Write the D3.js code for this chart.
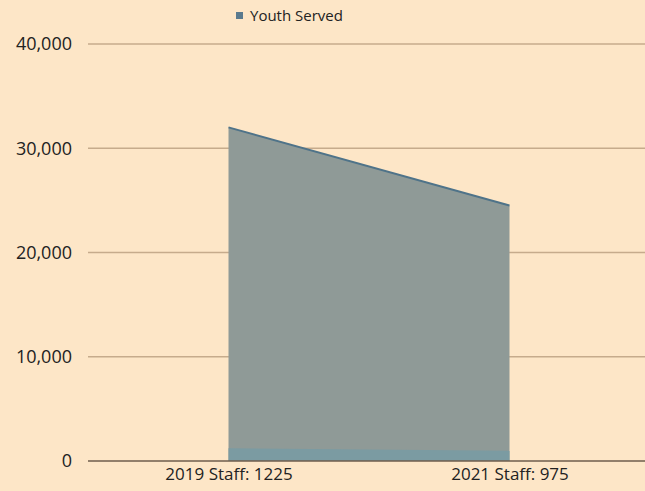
<!DOCTYPE html>
<html>
<head>
<meta charset="utf-8">
<script src="https://cdn.jsdelivr.net/npm/d3@7"></script>
<style>
  html, body { margin: 0; padding: 0; background: #fde6c7; }
  svg { display: block; font-family: "Open Sans", "Noto Sans", sans-serif; }
  .tick text { fill: #222; }
</style>
</head>
<body>
<div id="chart"></div>
<script>
(function(){
  "use strict";

  // chart data
  const categories = ["2019 Staff: 1225", "2021 Staff: 975"];
  const youthServed = [32000, 24500];
  const staffCount = [1225, 975];
  const yTicks = [0, 10000, 20000, 30000, 40000];

  const width = 645, height = 491;
  const margin = {top: 44, right: -5, bottom: 30, left: 88};
  const font = "'Open Sans', 'Noto Sans', sans-serif";

  const svg = d3.select("#chart").append("svg")
    .attr("width", width)
    .attr("height", height);

  svg.append("rect")
    .attr("width", width).attr("height", height)
    .attr("fill", "#fde6c7");

  // x spreads the two categories like a band axis
  const x = d3.scalePoint()
    .domain(categories)
    .range([margin.left, width - margin.right])
    .padding(0.5);

  const y = d3.scaleLinear()
    .domain([0, 40000])
    .range([height - margin.bottom, margin.top]);

  // labels on the left
  const yAxis = svg.append("g")
    .attr("transform", `translate(${margin.left},0)`)
    .call(d3.axisLeft(y)
      .tickValues(yTicks)
      .tickFormat(d3.format(","))
      .tickSize(0)
      .tickPadding(16))
    .attr("font-family", font)
    .attr("font-size", 18);
  yAxis.select(".domain").remove();

  // gridlines
  svg.append("g")
    .selectAll("line")
    .data(yTicks.filter(d => d > 0))
    .enter().append("line")
      .attr("x1", margin.left)
      .attr("x2", width)
      .attr("y1", d => y(d))
      .attr("y2", d => y(d))
      .attr("stroke", "#c6ab8c")
      .attr("stroke-width", 1.5);

  const rows = categories.map((c, i) => ({cat: c, youth: youthServed[i], staff: staffCount[i]}));

  // youth area
  const youthArea = d3.area()
    .x(d => x(d.cat))
    .y0(y(0))
    .y1(d => y(d.youth));

  svg.append("path")
    .datum(rows)
    .attr("d", youthArea)
    .attr("fill", "#8f9a97");

  svg.append("path")
    .datum(rows)
    .attr("d", d3.line().x(d => x(d.cat)).y(d => y(d.youth)))
    .attr("fill", "none")
    .attr("stroke", "#4f7389")
    .attr("stroke-width", 2);

  // staff band along the bottom
  const staffArea = d3.area()
    .x(d => x(d.cat))
    .y0(y(0))
    .y1(d => y(d.staff));

  svg.append("path")
    .datum(rows)
    .attr("d", staffArea)
    .attr("fill", "#7b9ba2");

  // baseline
  svg.append("line")
    .attr("x1", margin.left)
    .attr("x2", width)
    .attr("y1", y(0))
    .attr("y2", y(0))
    .attr("stroke", "#6e5c4c")
    .attr("stroke-width", 1.5);

  // x labels
  const xAxis = svg.append("g")
    .attr("transform", `translate(0,${y(0)})`)
    .call(d3.axisBottom(x).tickSize(0).tickPadding(7))
    .attr("font-family", font)
    .attr("font-size", 17);
  xAxis.select(".domain").remove();

  // legend
  const legend = svg.append("g").attr("transform", "translate(236,11)");
  legend.append("rect")
    .attr("width", 7).attr("height", 7)
    .attr("y", 1)
    .attr("fill", "#5a7a8e");
  legend.append("text")
    .attr("x", 14).attr("y", 10)
    .attr("font-size", 15)
    .attr("fill", "#222")
    .text("Youth Served");
})();
</script>
</body>
</html>
